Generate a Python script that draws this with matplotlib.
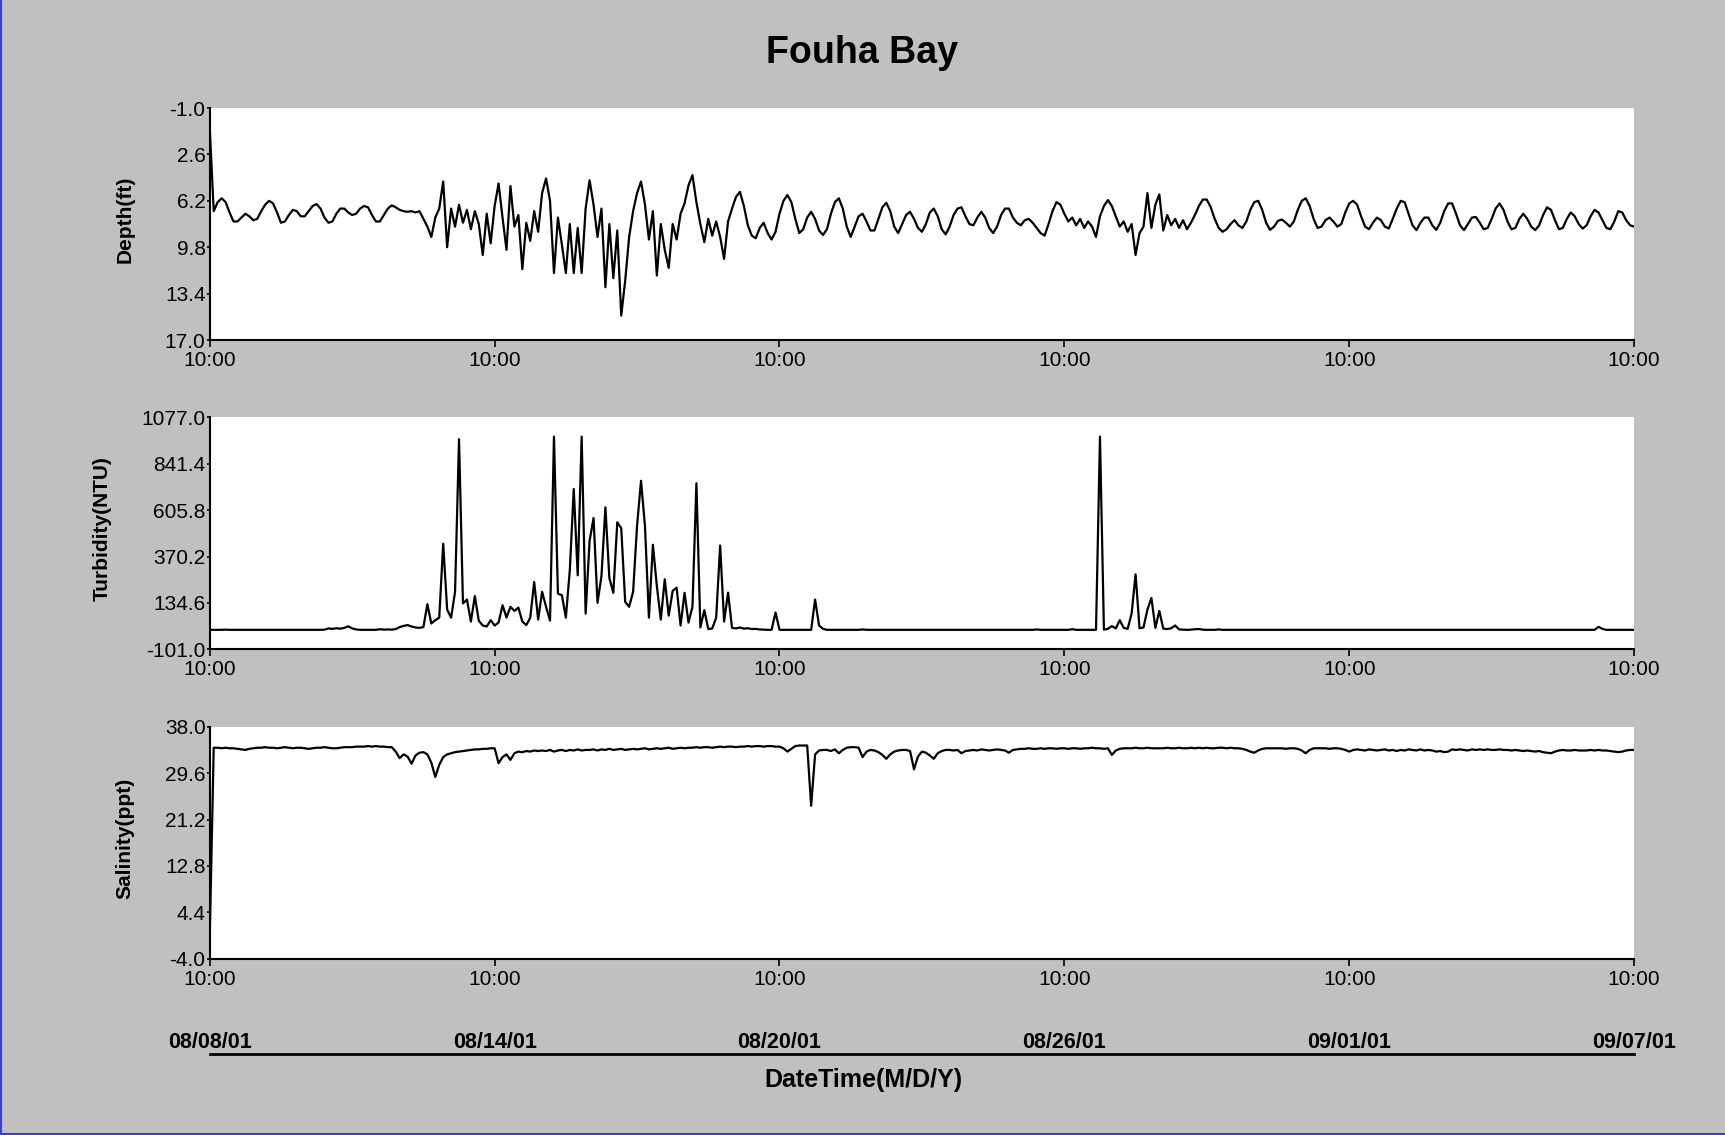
import numpy as np
import matplotlib
matplotlib.use('Agg')
import matplotlib.pyplot as plt
import matplotlib.dates as mdates
from matplotlib.ticker import FormatStrFormatter
from matplotlib.lines import Line2D

plt.rcParams['font.family'] = ['Liberation Sans', 'DejaVu Sans']
plt.rcParams['axes.unicode_minus'] = False

# readings every 2 hours from 08/08/01 10:00, one row per day
depth = [
    0.6, 7.0, 6.3, 6.0, 6.3, 7.1, 7.8, 7.8, 7.5, 7.2, 7.4, 7.7,
    7.6, 7.0, 6.5, 6.2, 6.4, 7.1, 7.9, 7.8, 7.3, 6.9, 7.0, 7.4,
    7.4, 7.0, 6.6, 6.45, 6.8, 7.5, 7.9, 7.8, 7.2, 6.8, 6.8, 7.1,
    7.3, 7.2, 6.8, 6.6, 6.7, 7.3, 7.8, 7.8, 7.3, 6.8, 6.55, 6.7,
    6.9, 7.0, 7.05, 7.0, 7.1, 7.0, 7.6, 8.2, 9.0, 7.5, 6.8, 4.7,
    9.8, 6.8, 8.2, 6.5, 7.9, 6.9, 8.4, 7.0, 8.0, 10.4, 7.2, 9.5,
    6.6, 4.85, 7.5, 10.0, 5.05, 8.2, 7.3, 11.5, 7.9, 9.3, 7.0, 8.6,
    5.6, 4.46, 6.2, 11.8, 7.5, 9.6, 11.8, 8.0, 11.8, 8.3, 11.8, 6.8,
    4.6, 6.5, 9.0, 6.8, 12.9, 8.0, 12.2, 8.5, 15.1, 12.4, 9.0, 7.0,
    5.6, 4.7, 6.5, 9.2, 7.0, 12.0, 8.0, 10.0, 11.4, 8.0, 9.2, 7.2,
    6.4, 5.0, 4.2, 6.3, 8.0, 9.4, 7.6, 8.9, 7.8, 9.0, 10.7, 7.8,
    6.8, 5.9, 5.5, 6.6, 8.1, 8.9, 9.1, 8.3, 7.9, 8.7, 9.2, 8.6,
    7.2, 6.2, 5.75, 6.3, 7.6, 8.7, 8.4, 7.5, 7.05, 7.6, 8.5, 8.85,
    8.4, 7.2, 6.3, 6.0, 6.8, 8.2, 9.0, 8.2, 7.4, 7.2, 7.8, 8.5,
    8.5, 7.6, 6.7, 6.35, 7.0, 8.2, 8.7, 8.0, 7.3, 7.05, 7.6, 8.3,
    8.6, 8.0, 7.1, 6.8, 7.4, 8.4, 8.8, 8.2, 7.3, 6.8, 6.7, 7.4,
    8.0, 8.1, 7.5, 7.05, 7.5, 8.3, 8.7, 8.2, 7.3, 6.8, 6.8, 7.5,
    7.9, 8.1, 7.7, 7.6, 7.9, 8.3, 8.7, 8.9, 8.0, 7.0, 6.3, 6.5,
    7.2, 7.8, 7.5, 8.1, 7.6, 8.3, 7.8, 8.2, 9.0, 7.4, 6.6, 6.14,
    6.6, 7.4, 8.2, 7.8, 8.6, 8.0, 10.4, 8.7, 8.2, 5.6, 8.3, 6.5,
    5.7, 8.5, 7.3, 8.1, 7.6, 8.3, 7.7, 8.4, 7.9, 7.3, 6.6, 6.1,
    6.1, 6.7, 7.6, 8.3, 8.6, 8.4, 8.0, 7.7, 8.1, 8.3, 7.8, 6.9,
    6.3, 6.2, 6.9, 7.9, 8.45, 8.2, 7.75, 7.65, 7.9, 8.2, 7.8, 6.9,
    6.2, 6.0, 6.6, 7.6, 8.3, 8.2, 7.7, 7.5, 7.8, 8.2, 8.0, 7.1,
    6.4, 6.2, 6.5, 7.4, 8.2, 8.4, 7.9, 7.5, 7.7, 8.2, 8.35, 7.6,
    6.8, 6.2, 6.3, 7.2, 8.1, 8.47, 7.9, 7.5, 7.5, 8.1, 8.45, 7.9,
    7.0, 6.4, 6.4, 7.2, 8.1, 8.47, 8.0, 7.5, 7.45, 7.9, 8.4, 8.3,
    7.6, 6.8, 6.4, 6.9, 7.8, 8.4, 8.3, 7.6, 7.2, 7.6, 8.2, 8.47,
    8.1, 7.3, 6.7, 6.9, 7.7, 8.4, 8.3, 7.6, 7.1, 7.4, 8.0, 8.35,
    8.1, 7.4, 6.9, 7.1, 7.7, 8.3, 8.4, 7.8, 7.0, 7.1, 7.7, 8.1,
    8.2,
]

turbidity = [
    -2, -2, -2, -2, -1, -2, -2, -2, -2, -2, -2, -2,
    -2, -2, -2, -2, -2, -2, -2, -2, -2, -2, -2, -2,
    -2, -2, -2, -2, -2, -1, 5, 3, 6, 4, 8, 16,
    5, 0, -2, -2, -2, -2, -2, 1, -1, 0, -1, 2,
    12, 18, 22, 15, 10, 8, 12, 128, 30, 47, 60, 435,
    101, 60, 191, 966, 132, 152, 40, 169, 44, 20, 15, 47,
    20, 35, 123, 60, 115, 94, 111, 40, 22, 59, 241, 50,
    191, 115, 45, 979, 182, 174, 60, 300, 713, 275, 979, 80,
    450, 566, 135, 270, 620, 261, 186, 544, 514, 140, 115, 191,
    527, 755, 524, 60, 430, 221, 50, 255, 70, 196, 212, 20,
    186, 35, 115, 742, 10, 98, 2, 5, 60, 426, 40, 187,
    8, 5, 10, 4, 6, 2, 3, 0, -1, -2, -2, 86,
    -2, -2, -2, -2, -2, -2, -2, -2, -2, 152, 20, 3,
    -2, -2, -2, -2, -2, -2, -2, -2, -2, 0, -2, -2,
    -2, -2, -2, -2, -2, -2, -2, -2, -2, -2, -2, -2,
    -2, -2, -2, -2, -2, -2, -2, -2, -2, -2, -2, -2,
    -2, -2, -2, -2, -2, -2, -2, -2, -2, -2, -2, -2,
    -2, -2, -2, -2, -2, 0, -2, -2, -2, -2, -2, -2,
    -2, -2, 1, -2, -2, -2, -2, -2, -2, 979, -1, 3,
    17, 5, 47, 8, 3, 81, 280, 6, 10, 101, 160, 8,
    94, 4, 2, 6, 20, 0, -1, -2, -1, 1, 2, -1,
    -2, -2, -2, 0, -2, -2, -2, -2, -2, -2, -2, -2,
    -2, -2, -2, -2, -2, -2, -2, -2, -2, -2, -2, -2,
    -2, -2, -2, -2, -2, -2, -2, -2, -2, -2, -2, -2,
    -2, -2, -2, -2, -2, -2, -2, -2, -2, -2, -2, -2,
    -2, -2, -2, -2, -2, -2, -2, -2, -2, -2, -2, -2,
    -2, -2, -2, -2, -2, -2, -2, -2, -2, -2, -2, -2,
    -2, -2, -2, -2, -2, -2, -2, -2, -2, -2, -2, -2,
    -2, -2, -2, -2, -2, -2, -2, -2, -2, -2, -2, -2,
    -2, -2, -2, 13, 3, -2, -2, -2, -2, -2, -2, -2,
    -2,
]

salinity = [
    0.1, 34.2, 34.2, 34.1, 34.2, 34.1, 34.1, 34.0, 33.9, 33.8, 34.0, 34.1,
    34.2, 34.2, 34.3, 34.2, 34.2, 34.1, 34.2, 34.3, 34.2, 34.1, 34.2, 34.2,
    34.1, 34.0, 34.1, 34.2, 34.2, 34.3, 34.2, 34.1, 34.1, 34.2, 34.3, 34.3,
    34.3, 34.4, 34.4, 34.4, 34.5, 34.4, 34.5, 34.4, 34.4, 34.3, 34.3, 33.5,
    32.3, 33.0, 32.6, 31.3, 32.8, 33.3, 33.4, 33.0, 31.5, 28.9, 31.1, 32.5,
    33.0, 33.2, 33.4, 33.5, 33.6, 33.7, 33.8, 33.9, 33.9, 34.0, 34.0, 34.1,
    34.1, 31.4, 32.5, 33.0, 32.0, 33.2, 33.5, 33.4, 33.6, 33.5, 33.7, 33.6,
    33.7, 33.6, 33.8, 33.5, 33.7, 33.8, 33.6, 33.8, 33.7, 33.9, 33.7, 33.8,
    33.8, 33.9, 33.7, 33.9, 33.8, 34.0, 33.8, 33.9, 34.0, 33.8, 33.9, 34.0,
    33.9, 34.0, 34.1, 33.9, 34.0, 34.1, 34.0, 34.1, 34.2, 34.0, 34.1, 34.2,
    34.1, 34.2, 34.2, 34.3, 34.2, 34.3, 34.3, 34.2, 34.3, 34.4, 34.3, 34.4,
    34.4, 34.3, 34.4, 34.4, 34.5, 34.4, 34.5, 34.5, 34.4, 34.5, 34.5, 34.4,
    34.4, 34.1, 33.5, 34.0, 34.5, 34.6, 34.6, 34.6, 23.7, 33.0, 33.7, 33.8,
    33.8, 33.6, 33.9, 33.2, 33.8, 34.2, 34.3, 34.3, 34.2, 32.5, 33.5, 33.8,
    33.7, 33.4, 32.9, 32.2, 33.0, 33.5, 33.7, 33.8, 33.8, 33.6, 30.3, 32.6,
    33.5, 33.3, 32.8, 32.2, 33.2, 33.6, 33.8, 33.8, 33.7, 33.8, 33.2, 33.6,
    33.7, 33.8, 33.7, 33.9, 33.8, 33.7, 33.8, 33.9, 33.8, 33.7, 33.3, 33.8,
    33.9, 34.0, 34.0, 34.1, 34.0, 34.0, 34.1, 34.0, 34.1, 34.1, 34.0, 34.1,
    34.1, 34.0, 34.1, 34.1, 34.0, 34.1, 34.1, 34.2, 34.1, 34.1, 34.0, 34.1,
    32.9, 33.7, 34.0, 34.1, 34.1, 34.1, 34.2, 34.1, 34.1, 34.2, 34.1, 34.1,
    34.1, 34.1, 34.2, 34.1, 34.1, 34.2, 34.1, 34.1, 34.2, 34.1, 34.2, 34.1,
    34.2, 34.1, 34.1, 34.2, 34.2, 34.1, 34.2, 34.1, 34.1, 34.0, 33.8, 33.5,
    33.3, 33.7, 34.0, 34.1, 34.1, 34.1, 34.1, 34.1, 34.0, 34.1, 34.1, 34.0,
    33.7, 33.2, 33.8, 34.1, 34.1, 34.1, 34.1, 34.0, 34.1, 34.1, 34.0, 33.8,
    33.5, 33.8, 33.9, 33.8, 33.7, 33.9, 33.8, 33.7, 33.8, 33.9, 33.7, 33.8,
    33.6, 33.8, 33.7, 33.9, 33.8, 33.7, 33.9, 33.7, 33.8, 33.7, 33.5, 33.6,
    33.4, 33.5, 33.9, 33.8, 33.9, 33.8, 33.7, 33.9, 33.8, 33.9, 33.8, 33.9,
    33.8, 33.8, 33.9, 33.8, 33.8, 33.7, 33.8, 33.7, 33.6, 33.7, 33.6, 33.5,
    33.6, 33.4, 33.3, 33.2, 33.5, 33.7, 33.8, 33.7, 33.7, 33.8, 33.7, 33.7,
    33.7, 33.8, 33.7, 33.8, 33.7, 33.7, 33.6, 33.5, 33.4, 33.5, 33.7, 33.8,
    33.8,
]

depth_ticks = [-1.0, 2.6, 6.2, 9.8, 13.4, 17.0]
turbidity_ticks = [-101.0, 134.6, 370.2, 605.8, 841.4, 1077.0]
salinity_ticks = [-4.0, 4.4, 12.8, 21.2, 29.6, 38.0]

assert len(depth) == len(turbidity) == len(salinity) == 361

start = np.datetime64('2001-08-08T10:00')
times = start + np.arange(len(depth)) * np.timedelta64(2, 'h')
tick_times = start + np.arange(0, 31, 6) * np.timedelta64(1, 'D')

fig = plt.figure(figsize=(17.25, 11.35), dpi=100, facecolor='#c0c0c0')
fig.suptitle('Fouha Bay', y=0.953, va='center', fontsize=27, fontweight='bold')

left, width, height = 0.1216, 0.8257, 0.2044
panels = [
    (depth, 'Depth(ft)', depth_ticks, 0.7004, (17.0, -1.0), -0.0526),
    (turbidity, 'Turbidity(NTU)', turbidity_ticks, 0.4279, (-101.0, 1077.0), -0.0688),
    (salinity, 'Salinity(ppt)', salinity_ticks, 0.1553, (-4.0, 38.0), -0.0526),
]

for values, label, yticks, bottom, ylim, label_x in panels:
    ax = fig.add_axes([left, bottom, width, height])
    ax.set_facecolor('white')
    ax.plot(times, values, color='black', lw=1.6)
    ax.set_xlim(times[0], times[-1])
    ax.set_ylim(*ylim)
    ax.set_yticks(yticks)
    ax.yaxis.set_major_formatter(FormatStrFormatter('%.1f'))
    ax.set_xticks(tick_times)
    ax.xaxis.set_major_formatter(mdates.DateFormatter('%H:%M'))
    for side in ['top', 'right']:
        ax.spines[side].set_visible(False)
    for side in ['left', 'bottom']:
        ax.spines[side].set_linewidth(1.5)
    ax.tick_params(axis='x', length=5, width=1.2, pad=3, labelsize=15)
    ax.tick_params(axis='y', length=2.5, width=1.2, pad=0.5, labelsize=15)
    ax.set_ylabel(label, fontsize=15, fontweight='bold')
    ax.yaxis.set_label_coords(label_x, 0.52)

# date axis under the panels
ax_date = fig.add_axes([left, 0.0714, width, 0.0001])
ax_date.patch.set_visible(False)
for side in ['top', 'right', 'left']:
    ax_date.spines[side].set_visible(False)
ax_date.spines['bottom'].set_linewidth(2)
ax_date.set_xlim(times[0], times[-1])
ax_date.set_yticks([])
ax_date.set_xticks(tick_times)
ax_date.xaxis.set_major_formatter(mdates.DateFormatter('%m/%d/%y'))
ax_date.xaxis.set_ticks_position('top')
ax_date.tick_params(axis='x', length=0, pad=0.5, labelsize=15.5)
for lbl in ax_date.get_xticklabels():
    lbl.set_fontweight('bold')
fig.text(0.5006, 0.0485, 'DateTime(M/D/Y)', ha='center', va='center',
         fontsize=18, fontweight='bold')

# blue window edge on the left and bottom
fig.add_artist(Line2D([0.0006, 0.0006], [0.0, 1.0], color='#3b3bd6', lw=1.5))
fig.add_artist(Line2D([0.0, 1.0], [0.0009, 0.0009], color='#3b3bd6', lw=1.5))

fig.savefig('out.png', dpi=100, facecolor=fig.get_facecolor())
